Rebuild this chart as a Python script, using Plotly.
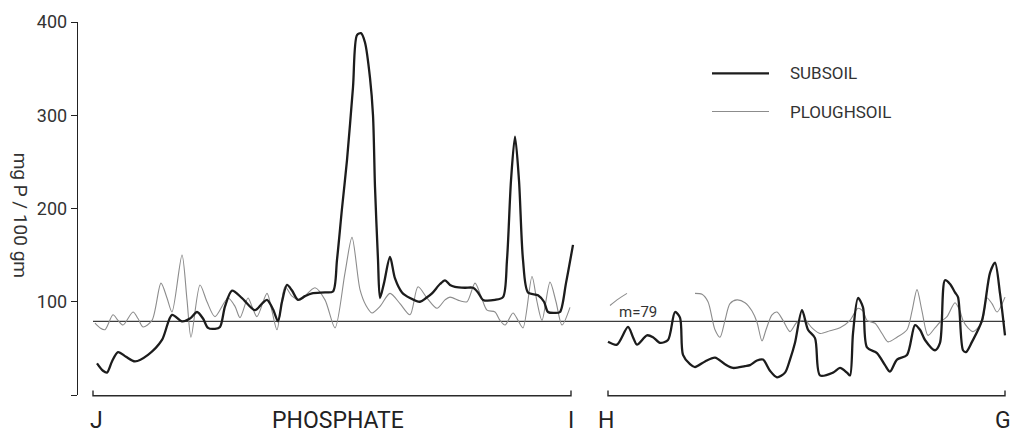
import plotly.graph_objects as go

# Transect distance (drawing units along the section) and phosphate values, mg P / 100 gm
subsoil_x_ji = [97, 103, 107, 112, 118, 126, 135, 148, 162, 172, 182, 190, 197, 203, 208, 215, 220, 225,
                232, 242, 255, 262, 267, 273, 278, 282, 287, 292, 298, 305, 312, 325, 333, 337, 342, 347,
                353, 357, 361, 365, 370, 373, 375, 378, 380, 384, 390, 395, 402, 410, 420, 426, 432, 440,
                445, 450, 455, 465, 473, 478, 483, 495, 503, 507, 511, 515, 519, 523, 528, 538, 544, 548,
                555, 560, 566, 573]
subsoil_ji = [34, 26, 24, 36, 46, 41, 36, 43, 59, 86, 79, 82, 89, 82, 72, 71, 73, 95,
              112, 104, 91, 98, 102, 92, 79, 100, 118, 112, 102, 106, 109, 110, 111, 145, 200, 252,
              330, 386, 388, 378, 340, 300, 223, 145, 104, 120, 148, 125, 110, 104, 100, 104, 109, 119,
              123, 118, 116, 115, 115, 110, 102, 102, 105, 145, 230, 277, 230, 145, 110, 107, 100, 89,
              88, 89, 120, 161]

subsoil_x_hg = [608, 617, 628, 633, 637, 647, 653, 660, 668, 675, 680, 683, 690, 695, 705, 715, 725, 733,
                745, 750, 757, 763, 770, 777, 785, 790, 795, 802, 808, 815, 820, 833, 840, 847, 850, 853,
                858, 863, 867, 877, 885, 890, 897, 907, 915, 920, 925, 935, 940, 945, 950, 955, 958, 963,
                966, 972, 982, 990, 995, 1000, 1005]
subsoil_hg = [57, 54, 73, 62, 54, 64, 62, 56, 59, 89, 83, 43, 33, 30, 36, 40, 33, 29,
              31, 32, 37, 38, 26, 19, 24, 38, 56, 91, 70, 61, 21, 24, 29, 24, 21, 66,
              104, 94, 51, 45, 32, 25, 38, 43, 75, 70, 59, 48, 56, 123, 119, 110, 105, 48,
              46, 57, 80, 131, 142, 109, 64]

plough_x_ji = [95, 100, 105, 113, 118, 123, 133, 138, 143, 152, 161, 167, 172, 182, 187, 191, 200, 207,
               215, 228, 235, 240, 248, 252, 257, 267, 272, 277, 285, 292, 300, 315, 325, 335, 345, 352,
               360, 366, 372, 380, 390, 400, 410, 418, 427, 437, 445, 450, 460, 467, 475, 481, 487, 495,
               500, 505, 513, 518, 523, 532, 537, 542, 550, 556, 562, 570]
plough_ji = [77, 72, 70, 86, 80, 75, 89, 82, 73, 80, 120, 104, 89, 150, 102, 62, 118, 100,
             84, 104, 95, 83, 104, 95, 84, 109, 90, 70, 116, 106, 102, 115, 102, 72, 131, 169,
             113, 96, 88, 95, 109, 98, 86, 116, 104, 93, 102, 105, 101, 100, 120, 106, 91, 89,
             80, 75, 88, 80, 72, 127, 100, 80, 121, 100, 75, 94]

plough_x_stub = [610, 617, 627]
plough_stub = [96, 102, 109]

plough_x_hg = [695, 702, 708, 715, 720, 725, 730, 737, 745, 752, 757, 762, 766, 772, 777, 783, 790, 797,
               805, 812, 820, 830, 840, 850, 858, 863, 867, 875, 882, 888, 897, 907, 912, 917, 922, 928,
               935, 940, 947, 955, 960, 963, 968, 973, 982, 987, 992, 997, 1005]
plough_hg = [109, 108, 100, 70, 62, 80, 98, 102, 99, 90, 78, 58, 70, 86, 89, 80, 68, 78,
             80, 72, 66, 69, 72, 80, 93, 90, 80, 77, 66, 57, 62, 70, 90, 113, 90, 64,
             72, 78, 84, 99, 90, 80, 72, 68, 78, 104, 98, 89, 105]

mean_value = 79
mean_x = [93, 1005]

section_labels = ["J", "PHOSPHATE", "I", "H", "G"]
section_label_x = [96, 338, 571, 606, 1003]
section_brackets = [(93, 571), (608, 1005)]

y_ticks = [0, 100, 200, 300, 400]
y_tick_text = ["", "100", "200", "300", "400"]

FONT = "Roboto"
DARK = "#1c1c1c"
GREY = "#8c8c8c"

subsoil_x = subsoil_x_ji + [None] + subsoil_x_hg
subsoil = subsoil_ji + [None] + subsoil_hg
plough_x = plough_x_ji + [None] + plough_x_stub + [None] + plough_x_hg
plough = plough_ji + [None] + plough_stub + [None] + plough_hg

fig = go.Figure()
fig.add_trace(go.Scatter(x=mean_x, y=[mean_value] * 2, mode="lines",
                         line=dict(color="#3c3c3c", width=1.2), hoverinfo="skip"))
fig.add_trace(go.Scatter(x=plough_x, y=plough, mode="lines", connectgaps=False,
                         line=dict(color=GREY, width=1.1, shape="spline", smoothing=0.8),
                         name="PLOUGHSOIL"))
fig.add_trace(go.Scatter(x=subsoil_x, y=subsoil, mode="lines", connectgaps=False,
                         line=dict(color=DARK, width=2.3, shape="spline", smoothing=0.8),
                         name="SUBSOIL"))

shapes = []
# Section brackets under the transects
for x0, x1 in section_brackets:
    shapes.append(dict(type="path", xref="x", yref="paper",
                       path=f"M {x0},0.012 L {x0},-0.002 L {x1},-0.002 L {x1},0.012",
                       line=dict(color="#2a2a2a", width=1.4)))
# Legend keys
shapes.append(dict(type="line", xref="x", yref="y", x0=712, x1=769, y0=345, y1=345,
                   line=dict(color=DARK, width=2.2)))
shapes.append(dict(type="line", xref="x", yref="y", x0=712, x1=769, y0=304, y1=304,
                   line=dict(color=GREY, width=1.1)))

annotations = []
for lab, lx in zip(section_labels, section_label_x):
    annotations.append(dict(x=lx, y=-0.068, xref="x", yref="paper", text=lab, showarrow=False,
                            xanchor="center", yanchor="middle",
                            font=dict(family=FONT, size=23, color="#222")))
annotations.append(dict(x=788, y=345, xref="x", yref="y", text="SUBSOIL", showarrow=False,
                        xanchor="left", yanchor="middle", font=dict(family=FONT, size=17, color="#333")))
annotations.append(dict(x=788, y=304, xref="x", yref="y", text="PLOUGHSOIL", showarrow=False,
                        xanchor="left", yanchor="middle", font=dict(family=FONT, size=17, color="#333")))
annotations.append(dict(x=617, y=89, xref="x", yref="y", text=f"m={mean_value}", showarrow=False,
                        xanchor="left", yanchor="middle", font=dict(family=FONT, size=15, color="#333")))
annotations.append(dict(x=-0.062, y=0.483, xref="paper", yref="paper", text="mg P / 100 gm",
                        showarrow=False, textangle=90, xanchor="center", yanchor="middle",
                        font=dict(family=FONT, size=19, color="#333")))

fig.update_layout(
    width=1013, height=433,
    margin=dict(l=78, r=3, t=22, b=38),
    paper_bgcolor="white", plot_bgcolor="white",
    showlegend=False,
    shapes=shapes, annotations=annotations,
    xaxis=dict(range=[78, 1010], visible=False, fixedrange=True),
    yaxis=dict(range=[0, 400], showgrid=False, zeroline=False, showline=True,
               linecolor="#222", linewidth=1.4, ticks="outside", ticklen=6, tickwidth=1.4,
               tickcolor="#222", tickvals=y_ticks, ticktext=y_tick_text,
               tickfont=dict(family=FONT, size=18, color="#333"), fixedrange=True),
)

fig.write_html("out.html")
